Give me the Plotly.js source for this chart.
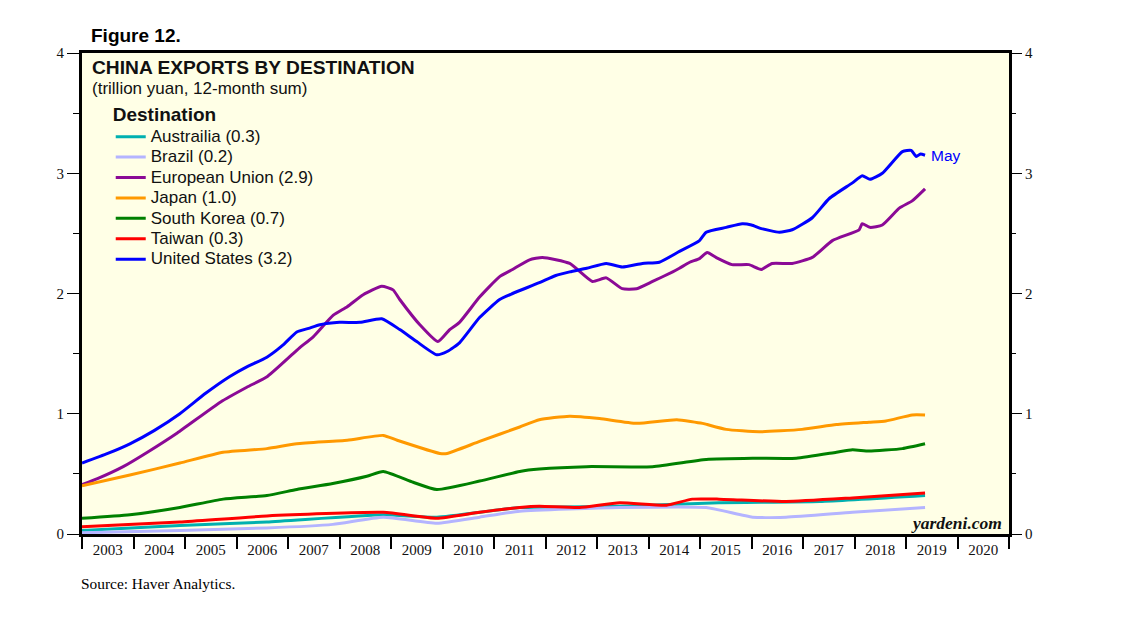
<!DOCTYPE html>
<html>
<head>
<meta charset="utf-8">
<script src="https://cdn.plot.ly/plotly-3.0.1.min.js"></script>
<style>html,body{margin:0;padding:0;background:#fff;}#chart{width:1138px;height:621px;}</style>
</head>
<body>
<div id="chart"></div>
<script>
// ---- Data (trillion yuan, 12-month sum), x = fractional year ----
const years = [2003,2004,2005,2006,2007,2008,2009,2010,2011,2012,2013,2014,2015,2016,2017,2018,2019,2020];

const usX = [2003.0,2003.5,2003.93,2004.4,2004.9,2005.4,2005.87,2006.2,2006.59,2006.9,2007.17,2007.4,2007.62,2008.0,2008.4,2008.82,2009.17,2009.5,2009.89,2010.1,2010.33,2010.72,2011.11,2011.36,2011.88,2012.2,2012.47,2012.8,2013.18,2013.49,2013.88,2014.21,2014.6,2014.99,2015.12,2015.51,2015.82,2016.0,2016.19,2016.54,2016.79,2017.18,2017.51,2017.96,2018.15,2018.3,2018.54,2018.93,2019.1,2019.2,2019.28,2019.37];
const usY = [0.59,0.67,0.75,0.86,1.00,1.17,1.31,1.39,1.47,1.57,1.68,1.71,1.74,1.76,1.76,1.79,1.70,1.60,1.49,1.52,1.59,1.80,1.95,2.00,2.09,2.15,2.18,2.21,2.25,2.22,2.25,2.26,2.35,2.44,2.51,2.55,2.58,2.57,2.54,2.51,2.53,2.63,2.79,2.92,2.98,2.95,3.00,3.18,3.19,3.14,3.16,3.15];

const euX = [2003.0,2003.3,2003.8,2004.27,2004.85,2005.7,2006.2,2006.6,2007.1,2007.23,2007.49,2007.88,2008.15,2008.46,2008.82,2009.04,2009.17,2009.56,2009.91,2010.14,2010.33,2010.72,2011.11,2011.36,2011.69,2011.94,2012.47,2012.91,2013.18,2013.49,2013.77,2014.08,2014.47,2014.6,2014.8,2014.99,2015.14,2015.31,2015.62,2015.95,2016.19,2016.4,2016.79,2017.18,2017.57,2018.09,2018.15,2018.3,2018.54,2018.87,2019.12,2019.37];
const euY = [0.41,0.46,0.56,0.68,0.84,1.10,1.22,1.31,1.50,1.55,1.64,1.82,1.89,1.99,2.06,2.03,1.95,1.74,1.60,1.70,1.76,1.97,2.14,2.20,2.28,2.30,2.25,2.10,2.13,2.04,2.04,2.10,2.18,2.21,2.26,2.29,2.34,2.30,2.24,2.24,2.20,2.25,2.25,2.30,2.44,2.53,2.58,2.55,2.57,2.71,2.77,2.87];

const jpX = [2003.0,2003.93,2004.9,2005.74,2006.59,2007.17,2008.15,2008.85,2009.12,2009.95,2010.09,2010.72,2011.5,2011.88,2012.47,2013.05,2013.77,2014.55,2015.05,2015.14,2015.51,2016.15,2016.98,2017.65,2018.28,2018.61,2019.12,2019.37];
const jpY = [0.40,0.49,0.59,0.68,0.71,0.75,0.78,0.82,0.78,0.67,0.67,0.77,0.89,0.95,0.98,0.96,0.92,0.95,0.92,0.91,0.87,0.85,0.87,0.91,0.93,0.94,0.99,0.99];

const krX = [2003.0,2003.93,2004.9,2005.74,2006.59,2007.17,2007.87,2008.53,2008.85,2009.43,2009.89,2010.72,2011.5,2011.88,2012.8,2014.08,2015.12,2016.02,2016.87,2017.65,2017.96,2018.28,2018.93,2019.37];
const krY = [0.13,0.16,0.22,0.29,0.32,0.37,0.42,0.48,0.52,0.43,0.37,0.44,0.52,0.54,0.56,0.56,0.62,0.63,0.63,0.68,0.70,0.69,0.71,0.75];

const twX = [2003.0,2004.9,2006.59,2008.85,2009.89,2010.72,2011.5,2011.88,2012.66,2013.44,2014.35,2014.85,2015.37,2016.67,2017.96,2019.37];
const twY = [0.06,0.10,0.15,0.18,0.13,0.18,0.22,0.23,0.22,0.26,0.24,0.29,0.29,0.27,0.30,0.34];

const auX = [2003.0,2004.9,2006.59,2008.85,2009.89,2011.5,2013.44,2015.37,2017.32,2019.37];
const auY = [0.03,0.07,0.10,0.16,0.14,0.22,0.23,0.26,0.27,0.32];

const brX = [2003.0,2004.9,2006.59,2007.87,2008.85,2009.89,2010.72,2011.5,2013.44,2015.12,2016.02,2016.67,2017.96,2019.37];
const brY = [0.01,0.03,0.05,0.08,0.14,0.09,0.14,0.19,0.22,0.22,0.14,0.14,0.18,0.22];

const seriesNames = ['Austrailia (0.3)','Brazil (0.2)','European Union (2.9)','Japan (1.0)','South Korea (0.7)','Taiwan (0.3)','United States (3.2)'];
const seriesColors = ['#00B0B0','#B4B4FF','#8B0A96','#FF9900','#008000','#FF0000','#0000FF'];
const seriesX = [auX, brX, euX, jpX, krX, twX, usX];
const seriesY = [auY, brY, euY, jpY, krY, twY, usY];

const traces = seriesNames.map((n, i) => ({
  type: 'scatter', mode: 'lines',
  name: '<span style="font-size:17px">' + n + '</span>',
  x: seriesX[i], y: seriesY[i],
  line: {color: seriesColors[i], width: 3, shape: 'spline', smoothing: 0.5},
  hoverinfo: 'skip'
}));
// invisible trace so the right-hand axis renders
traces.push({type:'scatter', mode:'lines', x:[2003], y:[0], yaxis:'y2', showlegend:false, line:{width:0}, hoverinfo:'skip'});

const serif = 'Liberation Serif, Times New Roman, serif';
const sans = 'Liberation Sans, Arial, sans-serif';

const layout = {
  width: 1138, height: 621,
  margin: {l: 82, r: 129, t: 53, b: 87},
  paper_bgcolor: '#ffffff',
  plot_bgcolor: '#FFFFE6',
  showlegend: true,
  legend: {
    x: 0.031, y: 0.909, xanchor: 'left', yanchor: 'top',
    bgcolor: 'rgba(0,0,0,0)',
    font: {family: sans, size: 13.4, color: '#111'},
    title: {text: '<b>Destination</b>', font: {family: sans, size: 19, color: '#111'}},
    tracegroupgap: 0, itemwidth: 30
  },
  xaxis: {
    range: [2003, 2021], showgrid: false, zeroline: false,
    showline: true, linecolor: '#000', linewidth: 3, mirror: true,
    tickvals: years.map(y => y + 0.5), ticktext: years.map(String),
    ticks: '', tickfont: {family: serif, size: 15, color: '#111'},
    minor: {ticks: 'outside', tick0: 2003, dtick: 1, ticklen: 12, tickwidth: 2, tickcolor: '#000', showgrid: false}
  },
  yaxis: {
    range: [0, 4], dtick: 1, showgrid: false, zeroline: false,
    showline: true, linecolor: '#000', linewidth: 3, mirror: true,
    ticks: 'outside', ticklen: 12, tickwidth: 1, tickcolor: '#000',
    tickfont: {family: serif, size: 15, color: '#111'},
    minor: {ticks: 'outside', dtick: 0.5, ticklen: 6, tickwidth: 1, tickcolor: '#000', showgrid: false}
  },
  yaxis2: {
    range: [0, 4], dtick: 1, overlaying: 'y', side: 'right', showgrid: false, zeroline: false,
    ticks: 'outside', ticklen: 12, tickwidth: 1, tickcolor: '#000',
    tickfont: {family: serif, size: 15, color: '#111'},
    minor: {ticks: 'outside', dtick: 0.5, ticklen: 6, tickwidth: 1, tickcolor: '#000', showgrid: false}
  },
  annotations: [
    {xref:'paper', yref:'paper', x: 0.0075, y: 1.037, xanchor:'left', yanchor:'middle', showarrow:false,
     text:'<b>Figure 12.</b>', font:{family: sans, size: 19, color:'#000'}},
    {xref:'paper', yref:'paper', x: 0.0085, y: 0.969, xanchor:'left', yanchor:'middle', showarrow:false,
     text:'<b>CHINA EXPORTS BY DESTINATION</b>', font:{family: sans, size: 19.2, color:'#111'}},
    {xref:'paper', yref:'paper', x: 0.0085, y: 0.927, xanchor:'left', yanchor:'middle', showarrow:false,
     text:'(trillion yuan, 12-month sum)', font:{family: sans, size: 17, color:'#111'}},
    {xref:'x', yref:'y', x: usX[usX.length-1], y: usY[usY.length-1], xanchor:'left', yanchor:'middle', xshift: 4, showarrow:false,
     text:'May', font:{family: sans, size: 15.5, color:'#0000FF'}},
    {xref:'paper', yref:'paper', x: 0.995, y: 0.023, xanchor:'right', yanchor:'middle', showarrow:false,
     text:'<b><i>yardeni.com</i></b>', font:{family: serif, size: 17.5, color:'#111'}},
    {xref:'paper', yref:'paper', x: -0.003, y: -0.102, xanchor:'left', yanchor:'middle', showarrow:false,
     text:'Source: Haver Analytics.', font:{family: serif, size: 15.4, color:'#000'}}
  ]
};

Plotly.newPlot('chart', traces, layout, {staticPlot: true, displayModeBar: false});
</script>
</body>
</html>
